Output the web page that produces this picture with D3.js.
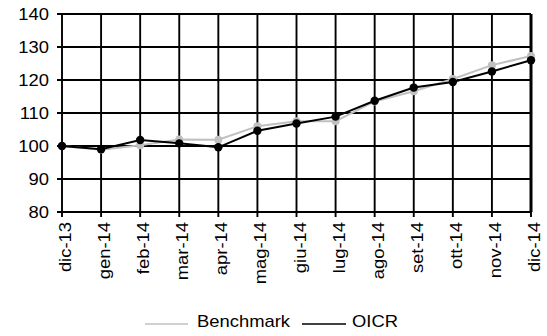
<!DOCTYPE html>
<html><head><meta charset="utf-8">
<script src="https://cdn.jsdelivr.net/npm/d3@7"></script>
<style>body{margin:0;background:#fff}svg{display:block}text{font-family:"Liberation Sans",Arial,sans-serif;fill:#000}</style>
</head><body><svg id="c" width="547" height="336"></svg>
<script>
const categories = ["dic-13","gen-14","feb-14","mar-14","apr-14","mag-14","giu-14","lug-14","ago-14","set-14","ott-14","nov-14","dic-14"];
const benchmark = [100, 98.9, 100.2, 102.0, 101.9, 106.0, 107.5, 107.5, 113.5, 116.6, 120.3, 124.5, 127.3];
const oicr = [100, 99.0, 101.8, 100.8, 99.6, 104.6, 106.8, 108.9, 113.7, 117.7, 119.4, 122.6, 126.0];
const yTicks = [80, 90, 100, 110, 120, 130, 140];
const seriesNames = ["Benchmark", "OICR"];
const seriesColors = ["#c0c0c0", "#000000"];

const svg = d3.select("#c");
const L = 62, R = 531, T = 14, B = 212;
const x = d3.scalePoint().domain(categories).range([L, R]);
const y = d3.scaleLinear().domain([80, 140]).range([B, T]);
const SX = 1.15;

// grid
const g = svg.append("g");
g.selectAll(".hg").data(yTicks).join("line")
  .attr("x1", L - 5).attr("x2", R).attr("y1", d => y(d)).attr("y2", d => y(d))
  .attr("stroke", "#000").attr("stroke-width", 1.9);
g.selectAll(".vg").data(categories).join("line")
  .attr("x1", d => x(d)).attr("x2", d => x(d)).attr("y1", T).attr("y2", B + 5)
  .attr("stroke", "#000").attr("stroke-width", 1.9);
g.append("line").attr("x1", R).attr("x2", R).attr("y1", T).attr("y2", B)
  .attr("stroke", "#000").attr("stroke-width", 3);

// y labels
svg.selectAll(".yl").data(yTicks).join("text")
  .attr("transform", d => `translate(49,${y(d)}) scale(${SX},1)`)
  .attr("text-anchor", "end").attr("dy", "0.36em")
  .style("font-size", "16px").text(d => d);

// x labels
svg.selectAll(".xl").data(categories).join("text")
  .attr("transform", d => `translate(${x(d)},222) rotate(-90) scale(${SX},1)`)
  .attr("text-anchor", "end").attr("dy", 9)
  .style("font-size", "16px").text(d => d);

// series
const line = d3.line().x((d, i) => x(categories[i])).y(d => y(d));
[benchmark, oicr].forEach((s, k) => {
  svg.append("path").attr("d", line(s)).attr("fill", "none")
    .attr("stroke", seriesColors[k]).attr("stroke-width", 2);
  svg.append("g").selectAll("circle").data(s).join("circle")
    .attr("cx", (d, i) => x(categories[i])).attr("cy", d => y(d))
    .attr("r", k === 0 ? 4 : 4.2).attr("fill", seriesColors[k]);
});

// legend
const leg = [{x1: 145, x2: 188, tx: 197}, {x1: 302, x2: 346, tx: 352}];
leg.forEach((p, k) => {
  svg.append("line").attr("x1", p.x1).attr("x2", p.x2).attr("y1", 324).attr("y2", 324)
    .attr("stroke", seriesColors[k]).attr("stroke-width", 1.5);
  svg.append("text").attr("transform", `translate(${p.tx},326.5) scale(${SX},1)`)
    .style("font-size", "16px").text(seriesNames[k]);
});
</script></body></html>
